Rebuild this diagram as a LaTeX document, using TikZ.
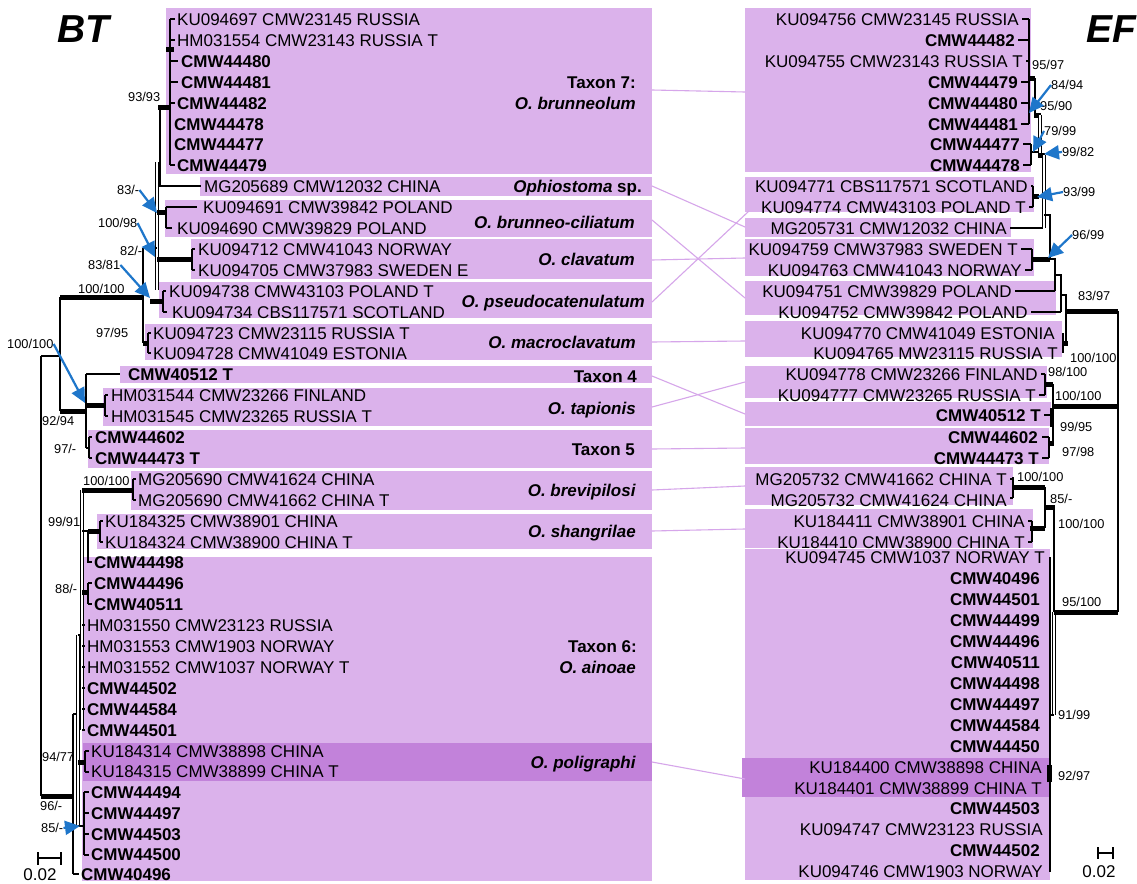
\documentclass[tikz,border=0pt]{standalone}
\usepackage{fontspec}
\setmainfont{Liberation Sans}
\usetikzlibrary{arrows.meta}
\definecolor{boxlight}{RGB}{219,178,235}
\definecolor{boxdark}{RGB}{194,130,218}
\definecolor{linkpurple}{RGB}{214,166,234}
\definecolor{arrowblue}{RGB}{30,118,202}

\begin{document}
\begin{tikzpicture}[x=1pt,y=-1pt,font=\fontsize{17}{20}\selectfont,
  lab/.style={inner sep=0pt,text height=12.2pt,text depth=0pt},
  supp/.style={inner sep=0pt,font=\fontsize{12.8}{14}\selectfont,text height=9.2pt,text depth=0pt},
  br/.style={line width=1.3pt},
  thk/.style={line width=5pt},
  twin/.style={double=white,double distance=2.2pt,line width=0.8pt},
  link/.style={draw=linkpurple,line width=1.1pt},
  arr/.style={draw=arrowblue,line width=2.2pt,-{Triangle[length=15pt,width=14pt]}}]
  \useasboundingbox (0,0) rectangle (1137,883);
  \fill[white] (0,0) rectangle (1137,883);

  \fill[boxlight] (166,8) rectangle (652,174);
  \fill[boxlight] (200,177) rectangle (652,196);
  \fill[boxlight] (165,200) rectangle (652,237);
  \fill[boxlight] (191,239) rectangle (652,279);
  \fill[boxlight] (159,282) rectangle (652,318);
  \fill[boxlight] (145,324) rectangle (652,360);
  \fill[boxlight] (120,366) rectangle (652,383);
  \fill[boxlight] (103,388) rectangle (652,426);
  \fill[boxlight] (88,430) rectangle (652,468);
  \fill[boxlight] (131,471) rectangle (652,510);
  \fill[boxlight] (97,514) rectangle (652,549);
  \fill[boxlight] (82,557) rectangle (652,881);
  \fill[boxdark] (83,743) rectangle (652,781);

  \fill[boxlight] (745,8) rectangle (1031,172);
  \fill[boxlight] (745,177) rectangle (1034,212);
  \fill[boxlight] (745,218) rectangle (1011,237);
  \fill[boxlight] (745,239) rectangle (1034,276);
  \fill[boxlight] (745,281) rectangle (1056,315);
  \fill[boxlight] (745,321) rectangle (1062,357);
  \fill[boxlight] (745,366) rectangle (1047,398);
  \fill[boxlight] (745,402) rectangle (1051,426);
  \fill[boxlight] (745,428) rectangle (1049,464);
  \fill[boxlight] (745,467) rectangle (1013,505);
  \fill[boxlight] (745,509) rectangle (1033,548);
  \fill[boxlight] (745,549) rectangle (1050,880);
  \fill[boxdark] (742,758) rectangle (1050,797);

  \coordinate (l7) at (652,90);   \coordinate (r7) at (745,92);
  \coordinate (lOph) at (652,186); \coordinate (rChi) at (745,227);
  \coordinate (lBc) at (652,220);  \coordinate (rPol) at (745,298);
  \coordinate (lCla) at (652,260); \coordinate (rSwe) at (745,258);
  \coordinate (lPse) at (652,302); \coordinate (rSco) at (749,211);
  \coordinate (lMac) at (652,342); \coordinate (rEst) at (745,341);
  \coordinate (lT4) at (652,376);  \coordinate (rT4) at (745,414);
  \coordinate (lTap) at (652,407); \coordinate (rFin) at (745,382);
  \coordinate (lT5) at (652,449);  \coordinate (rT5) at (745,448);
  \coordinate (lBre) at (652,490); \coordinate (rBre) at (745,486);
  \coordinate (lSha) at (652,531); \coordinate (rSha) at (745,529);
  \coordinate (lPoli) at (652,762); \coordinate (rPoli) at (745,779);
  \draw[link] (l7) -- (r7);
  \draw[link] (lOph) -- (rChi);
  \draw[link] (lBc) -- (rPol);
  \draw[link] (lCla) -- (rSwe);
  \draw[link] (lPse) -- (rSco);
  \draw[link] (lMac) -- (rEst);
  \draw[link] (lT4) -- (rT4);
  \draw[link] (lTap) -- (rFin);
  \draw[link] (lT5) -- (rT5);
  \draw[link] (lBre) -- (rBre);
  \draw[link] (lSha) -- (rSha);
  \draw[link] (lPoli) -- (rPoli);

  \draw[br] (170,19) -- (170,165);
  \draw[br] (170,19) -- (175,19) (170,40) -- (175,40) (170,61) -- (178,61)
    (170,82) -- (178,82) (170,103) -- (175,103) (170,165) -- (175,165);
  \draw[thk] (166,50) -- (174,50);
  \draw[thk] (158,107) -- (170,107);
  \draw[br] (160,107) -- (160,186) -- (201,186);
  \draw[twin] (157,162) -- (157,290);
  \draw[thk] (157,212) -- (167,212);
  \draw[br] (166,207) -- (166,228) (166,207) -- (197,207) (166,228) -- (172,228);
  \draw[thk] (157,259) -- (192,259);
  \draw[br] (192,249) -- (192,270) (192,249) -- (195,249) (192,270) -- (195,270);
  \draw[br] (143,248) -- (157,248) (143,248) -- (143,343);
  \draw[thk] (150,301) -- (163,301);
  \draw[br] (163,291) -- (163,312) (163,291) -- (166,291) (163,312) -- (167,312);
  \draw[thk] (143,343) -- (149,343);
  \draw[br] (148,333) -- (148,353) (148,333) -- (151,333) (148,353) -- (151,353);
  \draw[thk] (60,297) -- (143,297);
  \draw[br] (60,297) -- (60,411);
  \draw[br] (41,356) -- (60,356) (41,356) -- (41,796);
  \draw[thk] (60,411) -- (86,411);
  \draw[br] (86,374) -- (86,448) (86,374) -- (120,374) (86,448) -- (89,448);
  \draw[thk] (86,405) -- (105,405);
  \draw[br] (105,395) -- (105,416) (105,395) -- (108,395) (105,416) -- (108,416);
  \draw[br] (89,437) -- (89,458) (89,437) -- (92,437) (89,458) -- (92,458);
  \draw[thk] (41,796) -- (73,796);
  \draw[br] (73,714) -- (73,874) (73,874) -- (79,874) (73,714) -- (78,714);
  \draw[twin] (78,635) -- (78,826);
  \draw[br] (78,635) -- (82,635);
  \draw[twin] (82,490) -- (82,730);
  \draw[br] (82,625) -- (85,625) (82,646) -- (85,646) (82,667) -- (85,667)
    (82,688) -- (85,688) (82,709) -- (85,709) (82,730) -- (85,730);
  \draw[thk] (82,490) -- (133,490);
  \draw[br] (133,479) -- (133,500) (133,479) -- (136,479) (133,500) -- (136,500);
  \draw[br] (82,531) -- (88,531);
  \draw[thk] (88,531) -- (100,531);
  \draw[br] (100,521) -- (100,542) (100,521) -- (103,521) (100,542) -- (103,542);
  \draw[br] (88,531) -- (88,562) -- (92,562);
  \draw[thk] (82,592) -- (89,592);
  \draw[br] (88,583) -- (88,604) (88,583) -- (92,583) (88,604) -- (92,604);
  \draw[thk] (78,762) -- (86,762);
  \draw[br] (85,751) -- (85,772) (85,751) -- (89,751) (85,772) -- (89,772);
  \draw[br] (78,826) -- (84,826);
  \draw[br] (84,792) -- (84,855) (84,792) -- (89,792) (84,813) -- (89,813)
    (84,834) -- (89,834) (84,855) -- (89,855);

  \draw[br] (1029,19) -- (1029,124);
  \draw[br] (1022,19) -- (1029,19) (1018,40) -- (1029,40) (1026,61) -- (1029,61)
    (1021,82) -- (1029,82) (1021,103) -- (1029,103) (1021,124) -- (1029,124);
  \draw[thk] (1029,78) -- (1035,78);
  \draw[br] (1035,78) -- (1035,115);
  \draw[thk] (1034,115) -- (1041,115);
  \draw[twin] (1040,115) -- (1040,155);
  \draw[br] (1031,144) -- (1031,165) (1023,144) -- (1031,144) (1023,165) -- (1031,165)
    (1031,152) -- (1039,152);
  \draw[thk] (1038,155) -- (1045,155);
  \draw[twin] (1044,155) -- (1044,228);
  \draw[br] (1010,228) -- (1043,228);
  \draw[br] (1033,186) -- (1033,207) (1031,186) -- (1033,186) (1029,207) -- (1033,207);
  \draw[thk] (1033,196) -- (1039,196);
  \draw[br] (1039,196) -- (1043,196);
  \draw[br] (1044,215) -- (1050,215) -- (1050,259);
  \draw[br] (1032,249) -- (1032,270) (1021,249) -- (1032,249) (1025,270) -- (1032,270);
  \draw[thk] (1032,259) -- (1050,259);
  \draw[br] (1050,259) -- (1055,259) -- (1055,291) (1015,291) -- (1055,291);
  \draw[br] (1055,275) -- (1061,275) -- (1061,312) (1031,312) -- (1061,312);
  \draw[br] (1061,295) -- (1066,295) -- (1066,343);
  \draw[br] (1063,333) -- (1063,353);
  \draw[thk] (1063,343) -- (1068,343);
  \draw[thk] (1066,311) -- (1118,311);
  \draw[br] (1118,311) -- (1118,612);
  \draw[br] (1045,374) -- (1045,395) (1041,374) -- (1045,374) (1039,395) -- (1045,395);
  \draw[thk] (1045,384) -- (1053,384);
  \draw[br] (1053,384) -- (1053,443);
  \draw[line width=4pt] (1052,408) -- (1052,427);
  \draw[br] (1044,415) -- (1052,415);
  \draw[thk] (1048,443) -- (1054,443);
  \draw[br] (1049,437) -- (1049,458) (1042,437) -- (1049,437) (1042,458) -- (1049,458);
  \draw[thk] (1053,406) -- (1118,406);
  \draw[br] (1013,477) -- (1013,498) (1010,479) -- (1013,479) (1010,498) -- (1013,498);
  \draw[thk] (1013,487) -- (1045,487);
  \draw[br] (1045,487) -- (1045,528);
  \draw[br] (1032,521) -- (1032,542) (1028,521) -- (1032,521) (1028,542) -- (1032,542);
  \draw[thk] (1030,528) -- (1045,528);
  \draw[thk] (1045,507) -- (1055,507);
  \draw[br] (1054,507) -- (1054,612);
  \draw[twin] (1054,612) -- (1054,715);
  \draw[br] (1050,715) -- (1054,715);
  \draw[thk] (1054,612) -- (1118,612);
  \draw[br] (1050,557) -- (1050,872);
  \draw[line width=5pt] (1049,765) -- (1049,782);

  \draw[br] (38,852) -- (38,865) (38,858) -- (61,858) (61,852) -- (61,865);
  \draw[br] (1098,847) -- (1098,859) (1098,853) -- (1113,853) (1113,847) -- (1113,859);
  \node[lab] (scaleL) at (40,874) {0.02};
  \node[lab] (scaleR) at (1099,871) {0.02};

  \node[anchor=north west,inner sep=0pt,font=\fontsize{39}{40}\selectfont\bfseries\itshape] (bt) at (57,15) {BT};
  \node[anchor=north west,inner sep=0pt,font=\fontsize{39}{40}\selectfont\bfseries\itshape] (ef) at (1086,15) {EF};

  \node[lab,anchor=west] (bt1) at (177,19) {KU094697 CMW23145 RUSSIA};
  \node[lab,anchor=west] (bt2) at (177,40) {HM031554 CMW23143 RUSSIA T};
  \node[lab,anchor=west] (bt3) at (181,61) {\textbf{CMW44480}};
  \node[lab,anchor=west] (bt4) at (181,82) {\textbf{CMW44481}};
  \node[lab,anchor=west] (bt5) at (177,103) {\textbf{CMW44482}};
  \node[lab,anchor=west] (bt6) at (174,124) {\textbf{CMW44478}};
  \node[lab,anchor=west] (bt7) at (174,144) {\textbf{CMW44477}};
  \node[lab,anchor=west] (bt8) at (177,165) {\textbf{CMW44479}};
  \node[lab,anchor=west] (bt9) at (204,186) {MG205689 CMW12032 CHINA};
  \node[lab,anchor=west] (bt10) at (203,207) {KU094691 CMW39842 POLAND};
  \node[lab,anchor=west] (bt11) at (177,228) {KU094690 CMW39829 POLAND};
  \node[lab,anchor=west] (bt12) at (198,249) {KU094712 CMW41043 NORWAY};
  \node[lab,anchor=west] (bt13) at (198,270) {KU094705 CMW37983 SWEDEN E};
  \node[lab,anchor=west] (bt14) at (169,291) {KU094738 CMW43103 POLAND T};
  \node[lab,anchor=west] (bt15) at (172,312) {KU094734 CBS117571 SCOTLAND};
  \node[lab,anchor=west] (bt16) at (153,333) {KU094723 CMW23115 RUSSIA T};
  \node[lab,anchor=west] (bt17) at (153,353) {KU094728 CMW41049 ESTONIA};
  \node[lab,anchor=west] (bt18) at (128,374) {\textbf{CMW40512 T}};
  \node[lab,anchor=west] (bt19) at (111,395) {HM031544 CMW23266 FINLAND};
  \node[lab,anchor=west] (bt20) at (111,416) {HM031545 CMW23265 RUSSIA T};
  \node[lab,anchor=west] (bt21) at (95,437) {\textbf{CMW44602}};
  \node[lab,anchor=west] (bt22) at (95,458) {\textbf{CMW44473 T}};
  \node[lab,anchor=west] (bt23) at (138,479) {MG205690 CMW41624 CHINA};
  \node[lab,anchor=west] (bt24) at (138,500) {MG205690 CMW41662 CHINA T};
  \node[lab,anchor=west] (bt25) at (105,521) {KU184325 CMW38901 CHINA};
  \node[lab,anchor=west] (bt26) at (105,542) {KU184324 CMW38900 CHINA T};
  \node[lab,anchor=west] (bt27) at (94,562) {\textbf{CMW44498}};
  \node[lab,anchor=west] (bt28) at (94,583) {\textbf{CMW44496}};
  \node[lab,anchor=west] (bt29) at (94,604) {\textbf{CMW40511}};
  \node[lab,anchor=west] (bt30) at (87,625) {HM031550 CMW23123 RUSSIA};
  \node[lab,anchor=west] (bt31) at (87,646) {HM031553 CMW1903 NORWAY};
  \node[lab,anchor=west] (bt32) at (87,667) {HM031552 CMW1037 NORWAY T};
  \node[lab,anchor=west] (bt33) at (87,688) {\textbf{CMW44502}};
  \node[lab,anchor=west] (bt34) at (87,709) {\textbf{CMW44584}};
  \node[lab,anchor=west] (bt35) at (87,730) {\textbf{CMW44501}};
  \node[lab,anchor=west] (bt36) at (91,751) {KU184314 CMW38898 CHINA};
  \node[lab,anchor=west] (bt37) at (91,771) {KU184315 CMW38899 CHINA T};
  \node[lab,anchor=west] (bt38) at (91,792) {\textbf{CMW44494}};
  \node[lab,anchor=west] (bt39) at (91,813) {\textbf{CMW44497}};
  \node[lab,anchor=west] (bt40) at (91,834) {\textbf{CMW44503}};
  \node[lab,anchor=west] (bt41) at (91,854) {\textbf{CMW44500}};
  \node[lab,anchor=west] (bt42) at (81,874) {\textbf{CMW40496}};

  \node[lab,anchor=east] (ef1) at (1019,19) {KU094756 CMW23145 RUSSIA};
  \node[lab,anchor=east] (ef2) at (1015,40) {\textbf{CMW44482}};
  \node[lab,anchor=east] (ef3) at (1023,61) {KU094755 CMW23143 RUSSIA T};
  \node[lab,anchor=east] (ef4) at (1018,82) {\textbf{CMW44479}};
  \node[lab,anchor=east] (ef5) at (1018,103) {\textbf{CMW44480}};
  \node[lab,anchor=east] (ef6) at (1018,124) {\textbf{CMW44481}};
  \node[lab,anchor=east] (ef7) at (1020,144) {\textbf{CMW44477}};
  \node[lab,anchor=east] (ef8) at (1020,165) {\textbf{CMW44478}};
  \node[lab,anchor=east] (ef9) at (1028,186) {KU094771 CBS117571 SCOTLAND};
  \node[lab,anchor=east] (ef10) at (1026,207) {KU094774 CMW43103 POLAND T};
  \node[lab,anchor=east] (ef11) at (1007,228) {MG205731 CMW12032 CHINA};
  \node[lab,anchor=east] (ef12) at (1018,249) {KU094759 CMW37983 SWEDEN T};
  \node[lab,anchor=east] (ef13) at (1022,270) {KU094763 CMW41043 NORWAY};
  \node[lab,anchor=east] (ef14) at (1012,291) {KU094751 CMW39829 POLAND};
  \node[lab,anchor=east] (ef15) at (1028,312) {KU094752 CMW39842 POLAND};
  \node[lab,anchor=east] (ef16) at (1055,333) {KU094770 CMW41049 ESTONIA};
  \node[lab,anchor=east] (ef17) at (1058,353) {KU094765 MW23115 RUSSIA T};
  \node[lab,anchor=east] (ef18) at (1038,374) {KU094778 CMW23266 FINLAND};
  \node[lab,anchor=east] (ef19) at (1036,395) {KU094777 CMW23265 RUSSIA T};
  \node[lab,anchor=east] (ef20) at (1041,415) {\textbf{CMW40512 T}};
  \node[lab,anchor=east] (ef21) at (1038,437) {\textbf{CMW44602}};
  \node[lab,anchor=east] (ef22) at (1039,458) {\textbf{CMW44473 T}};
  \node[lab,anchor=east] (ef23) at (1007,479) {MG205732 CMW41662 CHINA T};
  \node[lab,anchor=east] (ef24) at (1007,500) {MG205732 CMW41624 CHINA};
  \node[lab,anchor=east] (ef25) at (1025,521) {KU184411 CMW38901 CHINA};
  \node[lab,anchor=east] (ef26) at (1025,542) {KU184410 CMW38900 CHINA T};
  \node[lab,anchor=east] (ef27) at (1045,557) {KU094745 CMW1037 NORWAY T};
  \node[lab,anchor=east] (ef28) at (1040,578) {\textbf{CMW40496}};
  \node[lab,anchor=east] (ef29) at (1040,599) {\textbf{CMW44501}};
  \node[lab,anchor=east] (ef30) at (1040,620) {\textbf{CMW44499}};
  \node[lab,anchor=east] (ef31) at (1040,641) {\textbf{CMW44496}};
  \node[lab,anchor=east] (ef32) at (1040,662) {\textbf{CMW40511}};
  \node[lab,anchor=east] (ef33) at (1040,683) {\textbf{CMW44498}};
  \node[lab,anchor=east] (ef34) at (1040,704) {\textbf{CMW44497}};
  \node[lab,anchor=east] (ef35) at (1040,725) {\textbf{CMW44584}};
  \node[lab,anchor=east] (ef36) at (1040,746) {\textbf{CMW44450}};
  \node[lab,anchor=east] (ef37) at (1042,767) {KU184400 CMW38898 CHINA};
  \node[lab,anchor=east] (ef38) at (1042,788) {KU184401 CMW38899 CHINA T};
  \node[lab,anchor=east] (ef39) at (1040,808) {\textbf{CMW44503}};
  \node[lab,anchor=east] (ef40) at (1043,829) {KU094747 CMW23123 RUSSIA};
  \node[lab,anchor=east] (ef41) at (1040,850) {\textbf{CMW44502}};
  \node[lab,anchor=east] (ef42) at (1043,871) {KU094746 CMW1903 NORWAY};

  \node[lab,anchor=east] (tx7a) at (636,82) {\textbf{Taxon 7:}};
  \node[lab,anchor=east] (tx7b) at (636,103) {\textbf{\textit{O. brunneolum}}};
  \node[lab,anchor=east] (txOph) at (642,186) {\textbf{\textit{Ophiostoma} sp.}};
  \node[lab,anchor=east] (txBc) at (635,222) {\textbf{\textit{O. brunneo-ciliatum}}};
  \node[lab,anchor=east] (txCla) at (635,259) {\textbf{\textit{O. clavatum}}};
  \node[lab,anchor=east] (txPse) at (645,301) {\textbf{\textit{O. pseudocatenulatum}}};
  \node[lab,anchor=east] (txMac) at (636,342) {\textbf{\textit{O. macroclavatum}}};
  \node[lab,anchor=east] (tx4) at (637,376) {\textbf{Taxon 4}};
  \node[lab,anchor=east] (txTap) at (636,408) {\textbf{\textit{O. tapionis}}};
  \node[lab,anchor=east] (tx5) at (635,449) {\textbf{Taxon 5}};
  \node[lab,anchor=east] (txBre) at (636,490) {\textbf{\textit{O. brevipilosi}}};
  \node[lab,anchor=east] (txSha) at (636,531) {\textbf{\textit{O. shangrilae}}};
  \node[lab,anchor=east] (tx6a) at (637,646) {\textbf{Taxon 6:}};
  \node[lab,anchor=east] (tx6b) at (636,667) {\textbf{\textit{O. ainoae}}};
  \node[lab,anchor=east] (txPoli) at (636,762) {\textbf{\textit{O. poligraphi}}};

  \node[supp,anchor=west] (s93) at (128,97) {93/93};
  \node[supp,anchor=west] (s83a) at (117,190) {83/-};
  \node[supp,anchor=west] (s100a) at (98,223) {100/98};
  \node[supp,anchor=west] (s82) at (120,251) {82/-};
  \node[supp,anchor=west] (s83b) at (88,265) {83/81};
  \node[supp,anchor=west] (s100b) at (78,289) {100/100};
  \node[supp,anchor=west] (s100c) at (7,344) {100/100};
  \node[supp,anchor=west] (s97a) at (96,333) {97/95};
  \node[supp,anchor=west] (s92) at (42,421) {92/94};
  \node[supp,anchor=west] (s97b) at (54,449) {97/-};
  \node[supp,anchor=west] (s100d) at (83,481) {100/100};
  \node[supp,anchor=west] (s99) at (48,522) {99/91};
  \node[supp,anchor=west] (s88) at (55,589) {88/-};
  \node[supp,anchor=west] (s94) at (42,757) {94/77};
  \node[supp,anchor=west] (s96) at (40,806) {96/-};
  \node[supp,anchor=west] (s85a) at (41,828) {85/-};

  \node[supp,anchor=west] (e95a) at (1032,65) {95/97};
  \node[supp,anchor=west] (e84) at (1051,85) {84/94};
  \node[supp,anchor=west] (e95b) at (1040,106) {95/90};
  \node[supp,anchor=west] (e79) at (1044,131) {79/99};
  \node[supp,anchor=west] (e99a) at (1062,152) {99/82};
  \node[supp,anchor=west] (e93) at (1063,192) {93/99};
  \node[supp,anchor=west] (e96) at (1072,235) {96/99};
  \node[supp,anchor=west] (e83) at (1078,296) {83/97};
  \node[supp,anchor=west] (e100a) at (1070,358) {100/100};
  \node[supp,anchor=west] (e98) at (1048,372) {98/100};
  \node[supp,anchor=west] (e100b) at (1055,396) {100/100};
  \node[supp,anchor=west] (e99b) at (1060,427) {99/95};
  \node[supp,anchor=west] (e97) at (1062,452) {97/98};
  \node[supp,anchor=west] (e100c) at (1017,477) {100/100};
  \node[supp,anchor=west] (e85) at (1050,499) {85/-};
  \node[supp,anchor=west] (e100d) at (1058,524) {100/100};
  \node[supp,anchor=west] (e95c) at (1062,602) {95/100};
  \node[supp,anchor=west] (e91) at (1058,715) {91/99};
  \node[supp,anchor=west] (e92) at (1058,776) {92/97};

  \coordinate (t83a) at (157,213);
  \coordinate (t100a) at (155,257);
  \coordinate (t83b) at (150,298);
  \coordinate (t100c) at (85,403);
  \coordinate (t85a) at (80,826);
  \coordinate (t84) at (1029,113);
  \coordinate (t79) at (1033,152);
  \coordinate (t99a) at (1044,154);
  \coordinate (t93) at (1037,197);
  \coordinate (t96) at (1048,258);
  \draw[arr] (s83a.east) -- (t83a);
  \draw[arr] (s100a.east) -- (t100a);
  \draw[arr] (s83b.east) -- (t83b);
  \draw[arr] (s100c.east) -- (t100c);
  \draw[arr] (s85a.east) -- (t85a);
  \draw[arr] (e84.west) -- (t84);
  \draw[arr] (e79.west) -- (t79);
  \draw[arr] (e99a.west) -- (t99a);
  \draw[arr] (e93.west) -- (t93);
  \draw[arr] (e96.west) -- (t96);
\end{tikzpicture}
\end{document}
